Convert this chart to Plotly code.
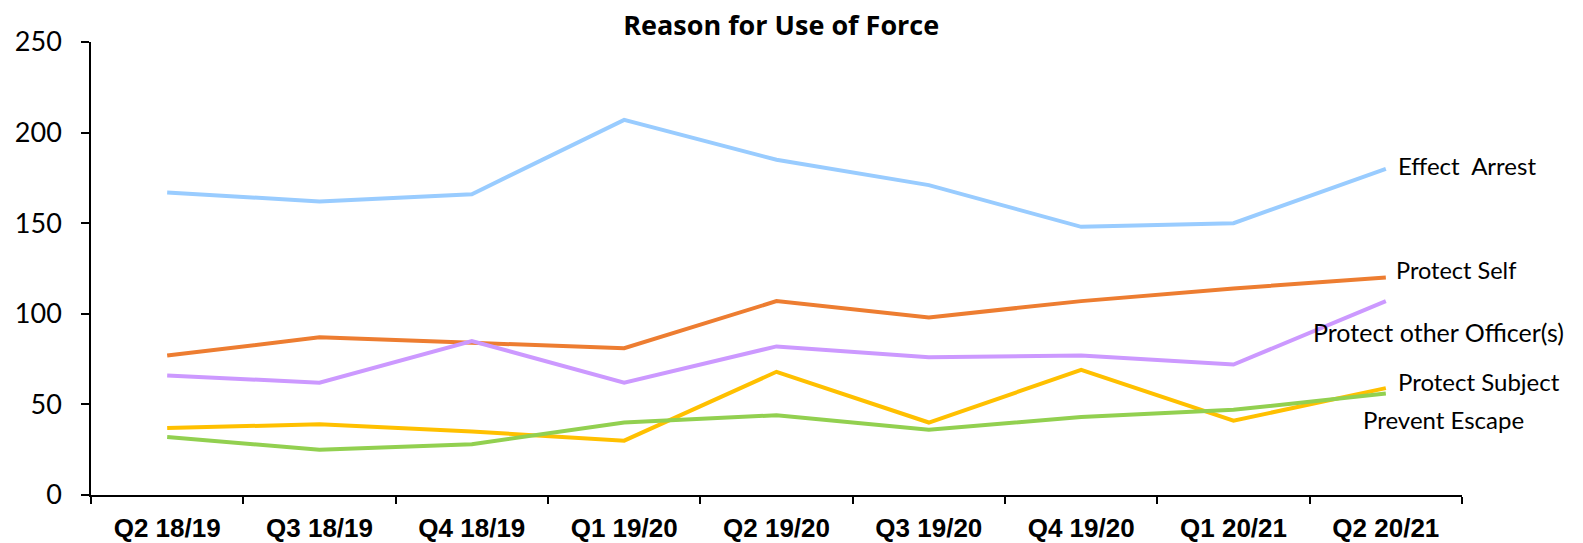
import plotly.graph_objects as go

quarters = ["Q2 18/19", "Q3 18/19", "Q4 18/19", "Q1 19/20", "Q2 19/20",
            "Q3 19/20", "Q4 19/20", "Q1 20/21", "Q2 20/21"]

effect_arrest = [167, 162, 166, 207, 185, 171, 148, 150, 180]
protect_self = [77, 87, 84, 81, 107, 98, 107, 114, 120]
protect_officers = [66, 62, 85, 62, 82, 76, 77, 72, 107]
protect_subject = [37, 39, 35, 30, 68, 40, 69, 41, 59]
prevent_escape = [32, 25, 28, 40, 44, 36, 43, 47, 56]

series = [
    ("Effect  Arrest", effect_arrest, "#99CCFF", 10, 3, 24),
    ("Protect Self", protect_self, "#ED7D31", 8, 8, 23.5),
    ("Protect other Officer(s)", protect_officers, "#CC99FF", -75, -31, 25),
    ("Protect Subject", protect_subject, "#FFC000", 10, 7, 24),
    ("Prevent Escape", prevent_escape, "#92D050", -25, -26, 24),
]

fig = go.Figure()
for name, vals, color, *_ in series:
    fig.add_trace(go.Scatter(x=quarters, y=vals, mode="lines", name=name,
                             line=dict(color=color, width=4)))

for name, vals, color, xs, ys, fs in series:
    fig.add_annotation(x=quarters[-1], y=vals[-1], text=name, showarrow=False,
                       xanchor="left", yanchor="middle", xshift=xs, yshift=ys,
                       font=dict(family="Lato", size=fs, color="#000000"))

fig.update_layout(
    width=1583, height=543,
    margin=dict(l=91, r=121, t=42, b=48, autoexpand=False),
    plot_bgcolor="white", paper_bgcolor="white",
    showlegend=False,
    title=dict(text="<b>Reason for Use of Force</b>", x=0.4935, xanchor="center",
               y=0.953, yanchor="middle",
               font=dict(family="Open Sans", size=27, color="#000000")),
)
fig.update_xaxes(type="category", range=[-0.5, 8.5], tickson="boundaries",
                 showline=True, linecolor="#000000", linewidth=1.5,
                 ticks="outside", ticklen=7, tickcolor="#000000", tickwidth=1.5,
                 showgrid=False, zeroline=False, ticklabelstandoff=9,
                 automargin=False,
                 tickfont=dict(family="Liberation Sans", size=26, color="#000000",
                               weight="bold"))
fig.update_yaxes(range=[0, 250], dtick=50, showline=True, linecolor="#000000",
                 linewidth=1.5, ticks="outside", ticklen=8, tickcolor="#000000",
                 tickwidth=1.5, showgrid=False, zeroline=False, ticklabelstandoff=14,
                 automargin=False,
                 tickfont=dict(family="Lato", size=27, color="#000000"))

fig.write_html("out.html")
